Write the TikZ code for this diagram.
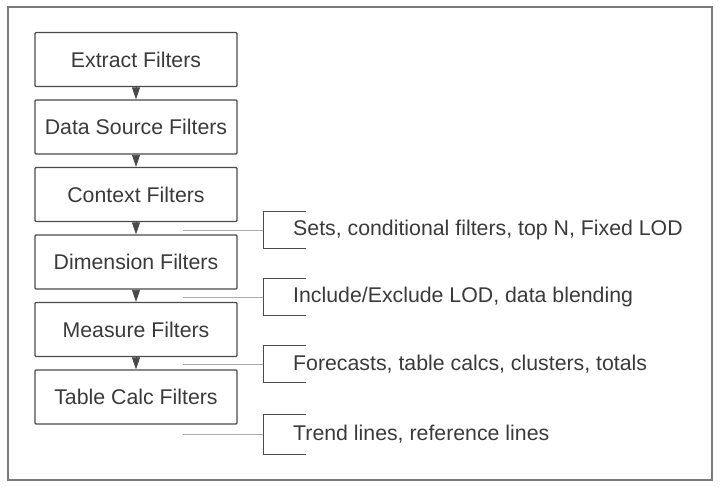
\documentclass[tikz,border=0pt]{standalone}
\usepackage{fontspec}
\setmainfont{Liberation Sans}
\usepackage{tikz}
\usetikzlibrary{arrows.meta}
\definecolor{boxline}{HTML}{4A4A4A}
\definecolor{textgray}{HTML}{3A3A3A}
\definecolor{tickgray}{HTML}{ABABAB}
\definecolor{framegray}{HTML}{7A7A7A}
\tikzset{
  filterbox/.style={draw=boxline, line width=1.2pt, rounded corners=1pt,
    minimum width=202pt, minimum height=54pt, inner sep=0pt,
    text=textgray, font=\fontsize{21.3}{25}\selectfont},
  note/.style={anchor=west, inner sep=0pt, text=textgray,
    font=\fontsize{21.3}{25}\selectfont},
  flow/.style={boxline, line width=0.8pt, -{Triangle[length=12pt,width=8pt]}},
  tick/.style={tickgray, line width=0.9pt},
  bracket/.style={draw=boxline, line width=1pt}
}

\begin{document}
\begin{tikzpicture}[x=1pt,y=-1pt]
	\useasboundingbox (0,0) rectangle (720,487);
	\draw[framegray, line width=1.3pt] (8,7) rectangle (712,480);
	% filter order
	\node[filterbox] (extract) at (136,59.5) {Extract Filters};
	\node[filterbox] (source) at (136,127) {Data Source Filters};
	\node[filterbox] (context) at (136,194.5) {Context Filters};
	\node[filterbox] (dimension) at (136,262) {Dimension Filters};
	\node[filterbox] (measure) at (136,329.5) {Measure Filters};
	\node[filterbox] (tablecalc) at (136,397) {Table Calc Filters};
	\draw[flow] (extract) -- (source);
	\draw[flow] (source) -- (context);
	\draw[flow] (context) -- (dimension);
	\draw[flow] (dimension) -- (measure);
	\draw[flow] (measure) -- (tablecalc);
	% what is computed in between
	\node[note] (sets) at (293,230) {Sets, conditional filters, top N, Fixed LOD};
	\node[note] (lod) at (293,297) {Include/Exclude LOD, data blending};
	\node[note] (calcs) at (293,364) {Forecasts, table calcs, clusters, totals};
	\node[note] (trend) at (293,434) {Trend lines, reference lines};
	\coordinate (s1) at (183,230);
	\coordinate (s2) at (183,297);
	\coordinate (s3) at (183,364);
	\coordinate (s4) at (183,434);
	\coordinate (b1) at (263,230);
	\coordinate (b2) at (263,297);
	\coordinate (b3) at (263,364);
	\coordinate (b4) at (263,434);
	\draw[tick] (s1) -- (b1);
	\draw[tick] (s2) -- (b2);
	\draw[tick] (s3) -- (b3);
	\draw[tick] (s4) -- (b4);
	\draw[bracket] (306,211.5) -- (263,211.5) -- (263,248.5) -- (306,248.5);
	\draw[bracket] (306,278.5) -- (263,278.5) -- (263,315.5) -- (306,315.5);
	\draw[bracket] (306,345.5) -- (263,345.5) -- (263,382.5) -- (306,382.5);
	\draw[bracket] (306,414) -- (263,414) -- (263,454) -- (306,454);
\end{tikzpicture}
\end{document}
